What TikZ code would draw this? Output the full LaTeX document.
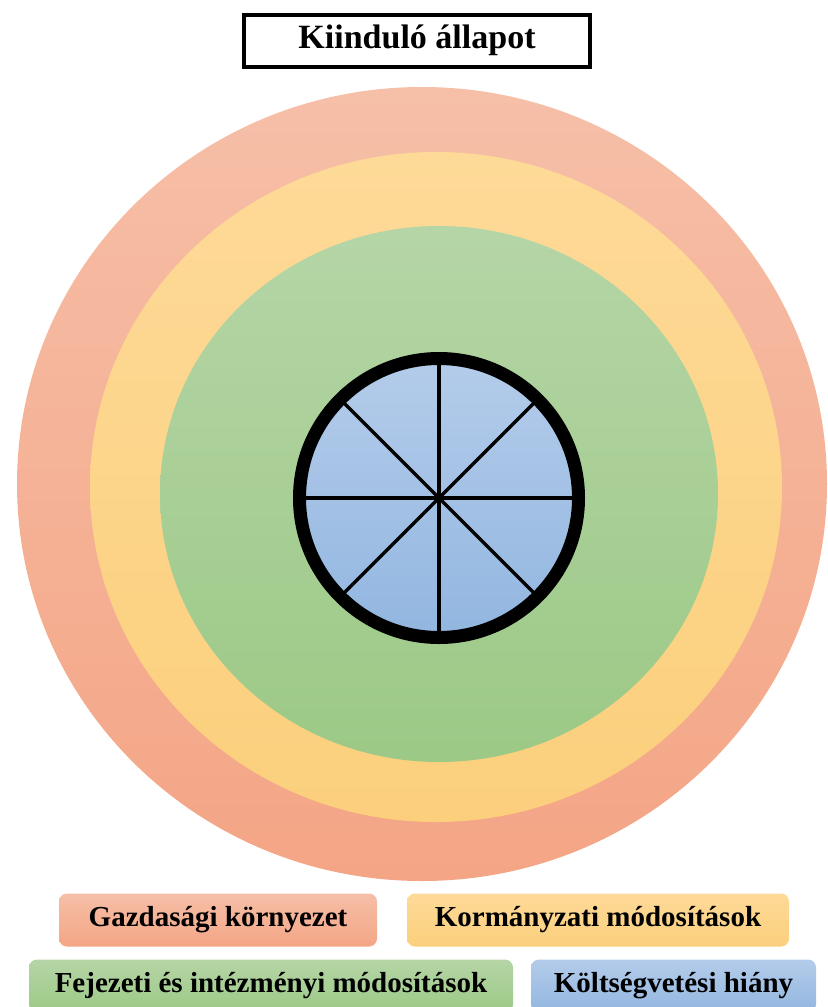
\documentclass[tikz,border=0pt]{standalone}
\usepackage{fontspec}
\setmainfont{Liberation Serif}
\definecolor{salmonA}{HTML}{F6BFA8}
\definecolor{salmonB}{HTML}{F4A585}
\definecolor{sunA}{HTML}{FEDA98}
\definecolor{sunB}{HTML}{FBCF7C}
\definecolor{leafA}{HTML}{B5D5A6}
\definecolor{leafB}{HTML}{9CC986}
\definecolor{skyA}{HTML}{B4CCEA}
\definecolor{skyB}{HTML}{92B6E0}

\begin{document}
\begin{tikzpicture}[
  x=0.5pt,y=-0.5pt,
  titlebox/.style={draw,line width=2pt,minimum width=173pt,minimum height=26pt,
    font=\fontsize{17}{20}\selectfont\bfseries},
  legend/.style={rounded corners=4pt,minimum height=26.5pt,inner sep=0pt,
    font=\fontsize{14.5}{17}\selectfont\bfseries},
  spoke/.style={line width=1.7pt}
]
\useasboundingbox (0,0) rectangle (828,1007);

\node[titlebox] (title) at (417,40.5) {Kiinduló állapot};

% rings
\shade[top color=salmonA,bottom color=salmonB] (422,484) ellipse [x radius=405,y radius=397];
\shade[top color=sunA,bottom color=sunB] (436,487) ellipse [x radius=346,y radius=335];
\shade[top color=leafA,bottom color=leafB] (439,494) ellipse [x radius=279,y radius=268];

% wheel
\coordinate (hub) at (439,498);
\shade[top color=skyA,bottom color=skyB] (hub) circle [radius=139.5];
\foreach \a in {0,45,...,315}
  \draw[spoke] (hub) -- ++(\a:139.5);
\draw[line width=6.5pt] (hub) circle [radius=139.5];

% legend
\node[legend,top color=salmonA,bottom color=salmonB,minimum width=159pt] (gazd) at (218,920) {Gazdasági környezet};
\node[legend,top color=sunA,bottom color=sunB,minimum width=191pt] (korm) at (598,920) {Kormányzati módosítások};
\node[legend,top color=leafA,bottom color=leafB,minimum width=242pt] (fej) at (271,986) {Fejezeti és intézményi módosítások};
\node[legend,top color=skyA,bottom color=skyB,minimum width=142.5pt] (kolt) at (673.5,986) {Költségvetési hiány};
\end{tikzpicture}
\end{document}
